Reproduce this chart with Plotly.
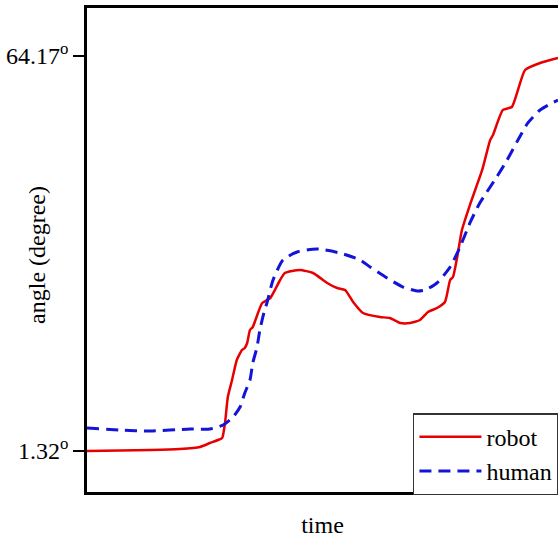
import plotly.graph_objects as go

# time axis (arbitrary units 0-100)
robot_t = [0, 7.0, 13.4, 19.7, 24.0, 26.1, 27.8, 28.7, 29.3, 29.9, 30.8, 31.8, 32.9, 33.5, 34.0,
           34.6, 35.2, 36.3, 37.2, 38.9, 41.0, 42.0, 45.2, 48.0, 51.0, 53.1, 54.8, 56.5, 58.6,
           62.2, 64.3, 66.5, 68.6, 70.7, 72.4, 74.3, 76.0, 77.1, 77.7, 78.6, 79.6, 81.3, 83.9,
           85.6, 86.2, 88.3, 90.2, 91.5, 93.0, 96.2, 100.0]
robot_deg = [1.32, 1.40, 1.48, 1.64, 1.96, 2.59, 3.07, 3.39, 5.78, 9.91, 12.62, 15.80, 17.39, 17.71, 18.50,
             20.57, 21.05, 23.28, 24.87, 25.66, 28.53, 29.64, 30.12, 29.64, 28.05, 27.25, 26.94, 25.03, 23.28,
             22.64, 22.48, 21.69, 21.69, 22.16, 23.44, 24.07, 25.03, 28.53, 29.00, 32.19, 36.48, 40.46, 46.03,
             50.80, 51.60, 55.58, 56.05, 58.76, 61.94, 63.05, 63.85]

human_t = [0, 7.0, 13.4, 21.9, 26.1, 28.9, 31.0, 32.5, 33.5, 34.6, 35.2, 36.1, 36.7, 37.6, 38.2,
           39.5, 41.6, 44.6, 48.8, 53.7, 58.0, 60.1, 63.7, 67.1, 70.1, 71.8, 74.3, 77.1, 79.2,
           81.3, 83.4, 87.0, 89.2, 91.5, 93.6, 96.2, 100.0]
human_deg = [4.98, 4.66, 4.50, 4.82, 4.82, 5.46, 6.73, 8.32, 10.55, 12.62, 15.32, 17.87, 20.57, 23.44, 24.87,
             28.53, 31.71, 32.98, 33.46, 32.82, 31.71, 30.60, 28.85, 27.41, 26.78, 26.94, 28.05, 30.60, 33.78,
             37.60, 40.78, 44.92, 47.62, 50.80, 53.51, 55.58, 57.17]

tick_vals = [1.32, 64.17]
tick_text = ["1.32<sup>o</sup>", "64.17<sup>o</sup>"]

FONT = "Liberation Serif"

fig = go.Figure()
fig.add_trace(go.Scatter(x=robot_t, y=robot_deg, mode="lines", name="robot",
                         line=dict(color="#e80000", width=2.5, shape="spline", smoothing=0.5)))
fig.add_trace(go.Scatter(x=human_t, y=human_deg, mode="lines", name="human",
                         line=dict(color="#1414d8", width=3, dash="12px,7px", shape="spline", smoothing=0.6)))

fig.update_layout(
    width=558, height=545,
    margin=dict(l=87, r=0, t=8, b=53, autoexpand=False),
    paper_bgcolor="white", plot_bgcolor="white",
    font=dict(family=FONT, size=24, color="black"),
    showlegend=True,
    legend=dict(x=0.692, y=0.163, xanchor="left", yanchor="top",
                bgcolor="white", bordercolor="#333333", borderwidth=1.5,
                font=dict(family=FONT, size=24, color="black"),
                tracegroupgap=0, itemwidth=62),
    xaxis=dict(range=[0, 100], showgrid=False, zeroline=False, showticklabels=False, ticks="",
               showline=True, linecolor="black", linewidth=2.5, mirror=True,
               title=dict(text="time", standoff=23, font=dict(family=FONT, size=24))),
    yaxis=dict(range=[-5.2, 71.8], showgrid=False, zeroline=False,
               tickvals=tick_vals, ticktext=tick_text, ticks="outside", ticklen=11,
               tickwidth=2, tickcolor="black",
               tickfont=dict(family=FONT, size=24, color="black"),
               showline=True, linecolor="black", linewidth=2.5, mirror=False),
    annotations=[dict(text="angle (degree)", textangle=-90, xref="paper", yref="paper",
                      x=-0.106, y=0.49, xanchor="center", yanchor="middle", showarrow=False,
                      font=dict(family=FONT, size=24, color="black"))],
)

fig.write_html("out.html")
